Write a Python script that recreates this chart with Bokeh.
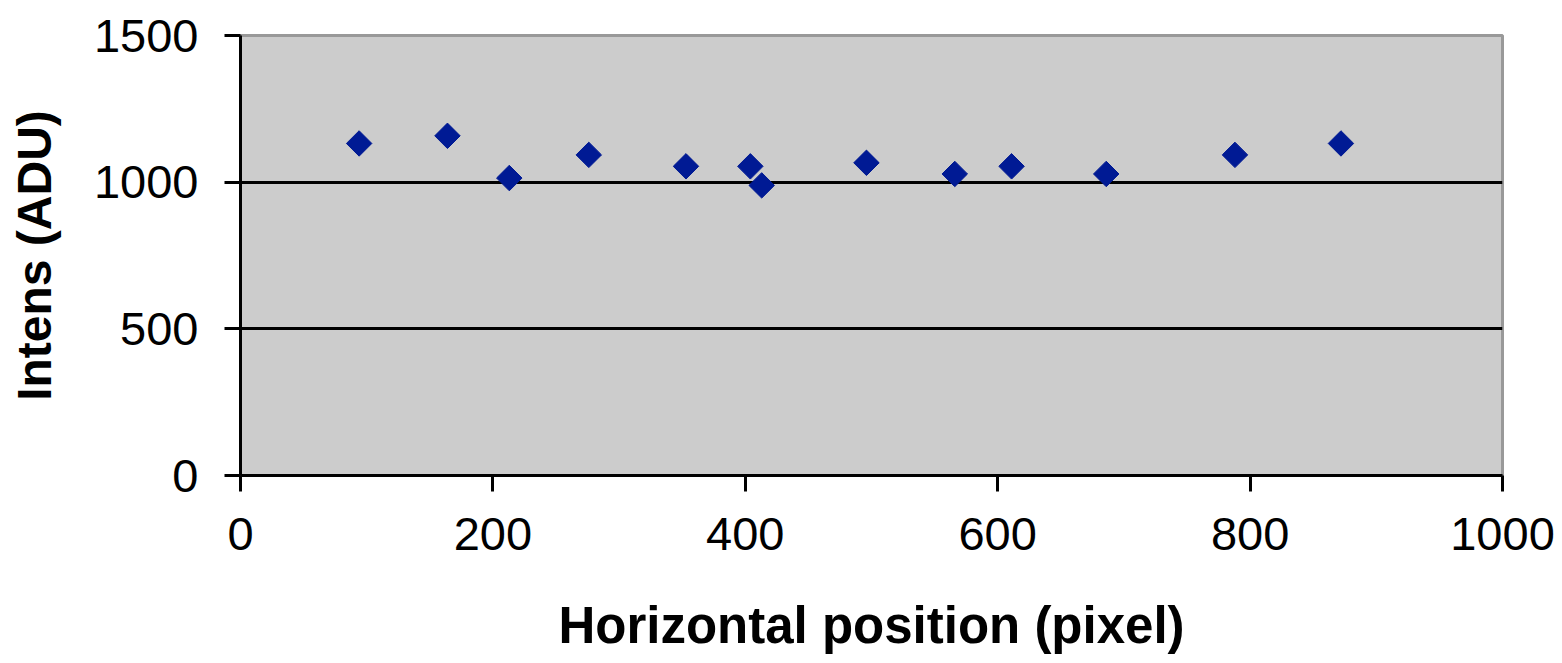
import math
from bokeh.plotting import figure
from bokeh.models import FixedTicker, Range1d
from bokeh.embed import file_html
from bokeh.resources import INLINE

# Data
positions = [94, 164, 213, 276, 353, 404, 413, 496, 566, 611, 686, 788, 872]
intensity = [1132, 1158, 1014, 1093, 1054, 1054, 989, 1066, 1028, 1054, 1028, 1093, 1132]
x_ticks = [0, 200, 400, 600, 800, 1000]
y_ticks = [0, 500, 1000, 1500]
grid_values = [500, 1000]

TICK_FONT = "Liberation Sans"
LABEL_FONT = "Liberation Sans"

p = figure(width=1562, height=663, output_backend="svg", toolbar_location=None,
           x_range=Range1d(0, 1000), y_range=Range1d(0, 1500))
p.min_border_left = 240
p.min_border_right = 60
p.min_border_top = 35
p.min_border_bottom = 188

p.background_fill_color = "#CCCCCC"
p.border_fill_color = "white"
p.outline_line_color = "#999999"
p.outline_line_width = 3

p.xgrid.visible = False
p.ygrid.ticker = FixedTicker(ticks=grid_values)
p.ygrid.grid_line_color = "black"
p.ygrid.grid_line_width = 3

for ax in (p.xaxis[0], p.yaxis[0]):
    ax.axis_line_color = "black"
    ax.axis_line_width = 3
    ax.major_tick_line_color = "black"
    ax.major_tick_line_width = 3
    ax.major_tick_in = 0
    ax.major_tick_out = 16
    ax.minor_tick_line_color = None
    ax.major_label_text_font = TICK_FONT
    ax.major_label_text_font_size = "47px"
    ax.major_label_text_color = "black"
    ax.axis_label_text_font = LABEL_FONT
    ax.axis_label_text_font_style = "bold"
    ax.axis_label_text_color = "black"

p.xaxis.axis_label_text_font_size = "51px"
p.yaxis.axis_label_text_font_size = "48px"
p.xaxis.ticker = FixedTicker(ticks=x_ticks)
p.yaxis.ticker = FixedTicker(ticks=y_ticks)
p.xaxis.major_label_standoff = 26
p.yaxis.major_label_standoff = 26
p.xaxis.axis_label = "Horizontal position (pixel)"
p.yaxis.axis_label = "Intens (ADU)"
p.xaxis.axis_label_standoff = 44
p.yaxis.axis_label_standoff = 30

p.scatter(positions, intensity, marker="square", size=18, angle=math.pi / 4,
          fill_color="#001A94", line_color="#001A94")

open("out.html", "w").write(file_html(p, INLINE))
